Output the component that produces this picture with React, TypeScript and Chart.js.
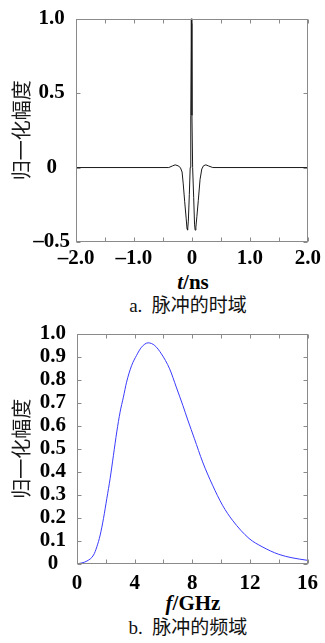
import React, { useEffect, useRef } from 'react';
import { Chart, registerables } from 'chart.js';
Chart.register(...registerables);

// ---- Data: (a) pulse in time domain ----
const timeNs = [
  -2.0, -0.4, -0.34, -0.29, -0.24, -0.2, -0.17, -0.15, -0.125, -0.1, -0.085, -0.075, -0.062,
  -0.045, -0.03, -0.02, -0.01, 0.0, 0.012, 0.03, 0.045, 0.055, 0.068, 0.085, 0.11, 0.14, 0.17,
  0.2, 0.24, 0.29, 0.36, 2.0,
];
const timeAmp = [
  0, 0, 0.01, 0.018, 0.012, 0.0, -0.03, -0.11, -0.23, -0.34, -0.41, -0.42, -0.36,
  -0.18, 0.0, 0.35, 1.0, 0.35, 0.0, -0.2, -0.38, -0.42, -0.4, -0.33, -0.22, -0.08, -0.01,
  0.012, 0.018, 0.01, 0, 0,
];

// ---- Data: (b) pulse in frequency domain ----
const freqGHz = [
  0, 0.69, 1.15, 1.38, 1.61, 1.84, 2.07, 2.3, 2.53, 2.76, 2.99, 3.22, 3.44, 3.79, 4.13, 4.48,
  4.94, 5.4, 5.86, 6.43, 6.89, 7.35, 7.69, 8.15, 8.72, 9.41, 10.1, 10.79, 11.94, 12.85, 14.0,
  14.92, 16.0,
];
const freqAmp = [
  0, 0.013, 0.039, 0.075, 0.126, 0.198, 0.284, 0.371, 0.472, 0.573, 0.659, 0.724, 0.789, 0.861,
  0.905, 0.941, 0.96, 0.948, 0.912, 0.847, 0.768, 0.688, 0.625, 0.544, 0.443, 0.342, 0.255,
  0.19, 0.111, 0.075, 0.042, 0.027, 0.016,
];

// ---- Axis settings ----
const timeRange = [-2, 2];
const timeStep = 0.5;
const timeAmpRange = [-0.5, 1.0];
const timeAmpStep = 0.5;
const freqRange = [0, 16];
const freqStep = 2;
const freqLabelEvery = 4;
const freqAmpRange = [0, 1];
const freqAmpStep = 0.1;

const yTitle = '归一化幅度';
const captionA = 'a.  脉冲的时域';
const captionB = 'b.  脉冲的频域';

const fmt = (v: number) => {
  const r = Math.round(v * 10) / 10;
  if (Math.abs(r) < 1e-9) return '0';
  return (r < 0 ? '\u2013' : '') + Math.abs(r).toFixed(1);
};

const tickFont = { family: 'Liberation Serif', size: 21, weight: 'bold' as const };
const titleFont = { family: 'Noto Sans CJK SC', size: 20, weight: 'normal' as const };

const framePlugin = {
  id: 'frame',
  afterDraw(chart: any) {
    const { ctx, chartArea: a, scales } = chart;
    const L = Math.round(a.left) + 0.5;
    const R = Math.round(a.right) - 0.5;
    const T = Math.round(a.top) + 0.5;
    const B = Math.round(a.bottom) - 0.5;
    const len = 4;
    ctx.save();
    ctx.strokeStyle = '#8a8a8a';
    ctx.lineWidth = 1;
    ctx.strokeRect(L, T, R - L, B - T);
    ctx.beginPath();
    for (const t of scales.x.ticks) {
      const px = Math.round(scales.x.getPixelForValue(t.value)) + 0.5;
      ctx.moveTo(px, B);
      ctx.lineTo(px, B - len);
      ctx.moveTo(px, T);
      ctx.lineTo(px, T + len);
    }
    for (const t of scales.y.ticks) {
      const py = Math.round(scales.y.getPixelForValue(t.value)) + 0.5;
      ctx.moveTo(L, py);
      ctx.lineTo(L + len, py);
      ctx.moveTo(R, py);
      ctx.lineTo(R - len, py);
    }
    ctx.stroke();
    ctx.restore();
  },
};

function makeConfig(opts: {
  xs: number[];
  ys: number[];
  color: string;
  xRange: number[];
  xStep: number;
  xLabel: (v: number) => string;
  yRange: number[];
  yStep: number;
  yWidth: number;
  yPad: number;
  xHeight: number;
  xPad: number;
  padTop: number;
  padRight: number;
  cubic: boolean;
}): any {
  return {
    type: 'line',
    data: {
      datasets: [
        {
          data: opts.xs.map((x, i) => ({ x, y: opts.ys[i] })),
          borderColor: opts.color,
          borderWidth: 1,
          pointRadius: 0,
          fill: false,
          tension: 0,
          cubicInterpolationMode: opts.cubic ? 'monotone' : 'default',
        },
      ],
    },
    options: {
      responsive: false,
      animation: false,
      devicePixelRatio: 1,
      layout: { padding: { top: opts.padTop, right: opts.padRight, left: 0, bottom: 0 } },
      plugins: { legend: { display: false }, tooltip: { enabled: false } },
      scales: {
        x: {
          type: 'linear',
          min: opts.xRange[0],
          max: opts.xRange[1],
          grid: { display: false, drawTicks: false },
          border: { display: false },
          ticks: {
            stepSize: opts.xStep,
            autoSkip: false,
            maxRotation: 0,
            padding: opts.xPad,
            color: '#000',
            font: tickFont,
            callback: (v: any) => opts.xLabel(Number(v)),
          },
          afterFit: (s: any) => {
            s.height = opts.xHeight;
          },
        },
        y: {
          type: 'linear',
          min: opts.yRange[0],
          max: opts.yRange[1],
          grid: { display: false, drawTicks: false },
          border: { display: false },
          ticks: {
            stepSize: opts.yStep,
            autoSkip: false,
            crossAlign: 'center',
            padding: opts.yPad,
            color: '#000',
            font: tickFont,
            callback: (v: any) => fmt(Number(v)),
          },
          title: {
            display: true,
            text: yTitle,
            color: '#1a1a1a',
            font: titleFont,
            padding: { top: 9, bottom: 0 },
          },
          afterFit: (s: any) => {
            s.width = opts.yWidth;
          },
        },
      },
    },
    plugins: [framePlugin],
  };
}

const serif = '"Liberation Serif", "Noto Sans CJK SC", serif';

export default function App() {
  const c1 = useRef<HTMLCanvasElement>(null);
  const c2 = useRef<HTMLCanvasElement>(null);

  useEffect(() => {
    const ch1 = new Chart(
      c1.current as HTMLCanvasElement,
      makeConfig({
        xs: timeNs,
        ys: timeAmp,
        color: '#1a1a1a',
        xRange: timeRange,
        xStep: timeStep,
        xLabel: (v) => (Math.abs(v - Math.round(v)) < 1e-9 ? fmt(v) : ''),
        yRange: timeAmpRange,
        yStep: timeAmpStep,
        yWidth: 76,
        yPad: 6,
        xHeight: 28,
        xPad: 4,
        padTop: 14,
        padRight: 15,
        cubic: false,
      })
    );
    const ch2 = new Chart(
      c2.current as HTMLCanvasElement,
      makeConfig({
        xs: freqGHz,
        ys: freqAmp,
        color: '#3a3aff',
        xRange: freqRange,
        xStep: freqStep,
        xLabel: (v) => (Math.round(v) % freqLabelEvery === 0 ? String(Math.round(v)) : ''),
        yRange: freqAmpRange,
        yStep: freqAmpStep,
        yWidth: 77,
        yPad: 11,
        xHeight: 26,
        xPad: 7,
        padTop: 23,
        padRight: 16,
        cubic: true,
      })
    );
    return () => {
      ch1.destroy();
      ch2.destroy();
    };
  }, []);

  const axisTitle: React.CSSProperties = {
    position: 'absolute',
    left: 93,
    width: 200,
    textAlign: 'center',
    fontFamily: serif,
    fontWeight: 'bold',
    fontSize: 21,
    lineHeight: '24px',
    color: '#000',
    whiteSpace: 'pre',
  };
  const caption: React.CSSProperties = {
    position: 'absolute',
    left: 88,
    width: 200,
    textAlign: 'center',
    fontFamily: serif,
    fontSize: 19,
    lineHeight: '24px',
    color: '#111',
    whiteSpace: 'pre',
  };

  return (
    <div style={{ position: 'absolute', left: 0, top: 0, width: 325, height: 643, background: '#fff' }}>
      <canvas ref={c1} width={325} height={270} style={{ position: 'absolute', left: 0, top: 0, width: 325, height: 270 }} />
      <div style={{ ...axisTitle, top: 270 }}>
        <i>t</i>/ns
      </div>
      <div style={{ ...caption, top: 294 }}>{captionA}</div>
      <canvas ref={c2} width={325} height={280} style={{ position: 'absolute', left: 0, top: 310, width: 325, height: 280 }} />
      <div style={{ ...axisTitle, top: 591 }}>
        <i>f</i>/GHz
      </div>
      <div style={{ ...caption, top: 616 }}>{captionB}</div>
    </div>
  );
}
